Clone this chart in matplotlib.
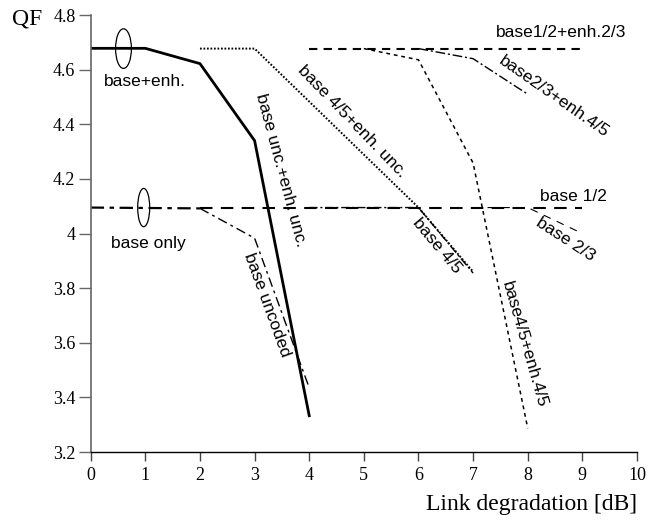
#!/usr/bin/env python3
#
# QF versus link degradation, coded/uncoded base and enhancement layers
#
import matplotlib
matplotlib.use('Agg')
import matplotlib.pyplot as plt
from matplotlib.patches import Ellipse

# Data
x_unc_enh = [0, 1, 2, 3, 4]
y_unc_enh = [4.678, 4.678, 4.622, 4.34, 3.333]

x_unc = [0, 2, 3, 4]
y_unc = [4.095, 4.092, 3.983, 3.435]

x_b12 = [2, 9]
y_b12 = [4.095, 4.095]

x_b45 = [4, 6, 7]
y_b45 = [4.095, 4.095, 3.855]

x_b23 = [7, 8, 9]
y_b23 = [4.095, 4.095, 4.0]

x_b45_enh_unc = [2, 3, 6, 7]
y_b45_enh_unc = [4.677, 4.677, 4.095, 3.86]

x_b12_e23 = [4, 9]
y_b12_e23 = [4.677, 4.677]

x_b23_e45 = [6, 7, 8]
y_b23_e45 = [4.677, 4.64, 4.51]

x_b45_e45 = [5, 6, 7, 8]
y_b45_e45 = [4.677, 4.636, 4.258, 3.287]

xticks = list(range(0, 11))
yticks = [3.2, 3.4, 3.6, 3.8, 4.0, 4.2, 4.4, 4.6, 4.8]
ylabels = ['3.2', '3.4', '3.6', '3.8', '4', '4.2', '4.4', '4.6', '4.8']

serif = ['Liberation Serif', 'DejaVu Serif']
sans = ['Liberation Sans', 'DejaVu Sans']

fig = plt.figure(figsize=(6.54, 5.21), dpi=100)
ax = fig.add_axes([0.1387, 0.1324, 0.974 - 0.1387, 0.9712 - 0.1324])
ax.set_xlim(0, 10)
ax.set_ylim(3.2, 4.8)

ax.spines['top'].set_visible(False)
ax.spines['right'].set_visible(False)
ax.spines['left'].set_color('#666666')
ax.spines['left'].set_linewidth(1.2)
ax.spines['bottom'].set_color('black')
ax.spines['bottom'].set_linewidth(1.0)

ax.set_xticks(xticks)
ax.set_xticklabels([str(t) for t in xticks])
ax.set_yticks(yticks)
ax.set_yticklabels(ylabels)
ax.tick_params(axis='x', direction='out', length=6.5, width=1,
               color='#444444', pad=4, labelsize=13)
ax.tick_params(axis='y', direction='out', length=8.5, width=1,
               color='#666666', pad=2.5, labelsize=13)
for lab in ax.get_xticklabels() + ax.get_yticklabels():
    lab.set_family(serif)

# Curves
ax.plot(x_unc_enh, y_unc_enh, color='k', lw=2.0, solid_joinstyle='miter')
ax.plot(x_unc[:2], y_unc[:2], color='k', lw=1.6, dashes=(6, 2.5, 2, 2.5))
ax.plot(x_unc[1:], y_unc[1:], color='k', lw=1.0, dashes=(7, 3, 2, 3))
ax.plot(x_b12, y_b12, color='k', lw=1.5, dashes=(6, 4))
ax.plot(x_b45, y_b45, color='k', lw=1.0, dashes=(6, 2, 1.5, 2))
ax.plot(x_b23, y_b23, color='k', lw=0.8, dashes=(7, 6))
ax.plot(x_b45_enh_unc, y_b45_enh_unc, color='k', lw=1.4, dashes=(0.9, 0.9))
ax.plot(x_b12_e23, y_b12_e23, color='k', lw=1.5, dashes=(4, 3))
ax.plot(x_b23_e45, y_b23_e45, color='k', lw=1.0, dashes=(7, 2, 1.5, 2))
ax.plot(x_b45_e45, y_b45_e45, color='k', lw=1.1, dashes=(2.5, 2.5))

# Grouping ellipses
ax.add_patch(Ellipse((0.6, 4.677), 0.29, 0.145, fill=False, lw=0.9,
                     color='k'))
ax.add_patch(Ellipse((0.97, 4.095), 0.22, 0.14, fill=False, lw=0.9,
                     color='k'))

kw = dict(family=sans, fontsize=12.5, rotation_mode='anchor')
ax.text(0.995, 4.555, 'base+enh.', ha='center', va='center', **kw)
ax.text(1.05, 3.965, 'base only', ha='center', va='center', **kw)
ax.text(3.48, 4.233, 'base unc.+enh. unc.', ha='center', va='center',
        rotation=-75, **kw)
ax.text(3.23, 3.74, 'base uncoded', ha='center', va='center',
        rotation=-70, **kw)
ax.text(4.78, 4.41, 'base 4/5+enh. unc.', ha='center', va='center',
        rotation=-46, **kw)
ax.text(6.34, 3.955, 'base 4/5', ha='center', va='center',
        rotation=-50, **kw)
ax.text(7.42, 4.735, 'base1/2+enh.2/3', ha='left', va='center', **kw)
ax.text(8.47, 4.50, 'base2/3+enh.4/5', ha='center', va='center',
        rotation=-35, **kw)
ax.text(8.23, 4.135, 'base 1/2', ha='left', va='center', **kw)
ax.text(8.69, 3.977, 'base 2/3', ha='center', va='center',
        rotation=-33, **kw)
ax.text(7.94, 3.593, 'base4/5+enh.4/5', ha='center', va='center',
        rotation=-74, **kw)

# Axis titles
fig.text(0.019, 0.964, 'QF', family=serif, fontsize=17, ha='left',
         va='center')
fig.text(0.974, 0.031, 'Link degradation [dB]', family=serif, fontsize=17,
         ha='right', va='center')

fig.savefig('out.png', dpi=100)
